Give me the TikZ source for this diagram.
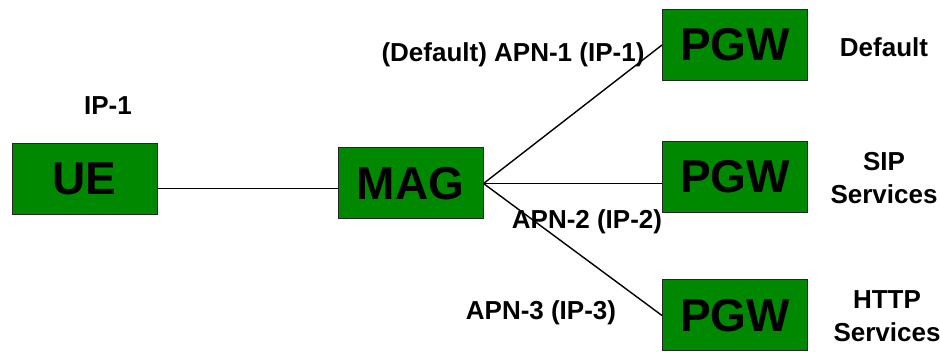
\documentclass[tikz,border=0pt]{standalone}
\usepackage{fontspec}
\setmainfont{Liberation Sans}
\usepackage{tikz}
\usetikzlibrary{positioning}
\usetikzlibrary{calc}
\definecolor{boxgreen}{RGB}{0,136,0}

\begin{document}
\begin{tikzpicture}[
                x=1pt, y=-1pt,
                line width=1.4pt,
                box/.style={
                        draw=black!85,
                        fill=boxgreen,
                        line width=1pt,
                        minimum width=145pt,
                        minimum height=71pt,
                        inner sep=0pt,
                        font=\fontsize{46}{46}\selectfont\bfseries
                    },
                textnode/.style={
                        draw=none,
                        align=center,
                        inner sep=0pt,
                        font=\fontsize{26}{33}\selectfont\bfseries
                    }
            ]
            \useasboundingbox (0,0) rectangle (940,352);

            % Boxes
            \node[box] (UE) at (84.5,179) {UE};
            \node[box] (MAG) at (410.5,183.5) {MAG};
            \node[box] (PGWa) at (735,45) {PGW};
            \node[box] (PGWb) at (735,177) {PGW};
            \node[box] (PGWc) at (735,315.5) {PGW};

            % Links
            \draw (UE.east |- MAG.184.3) -- (MAG.184.3);
            \draw (MAG.east) -- (PGWa.west);
            \draw (MAG.east) -- (PGWb.west |- MAG.east);
            \draw (MAG.east) -- (PGWc.west);

            % Labels
            \node[textnode] (IPone) at (108,106) {IP-1};
            \node[textnode] (APNone) at (513,55) {(Default) APN-1 (IP-1)};
            \node[textnode] (APNtwo) at (587,222) {APN-2 (IP-2)};
            \node[textnode] (APNthree) at (541,313) {APN-3 (IP-3)};
            \node[textnode] (Dtext) at (884,47) {Default};
            \node[textnode] (Stext) at (884,178) {SIP\\Services};
            \node[textnode] (Htext) at (887,316) {HTTP\\Services};

        \end{tikzpicture}
\end{document}
